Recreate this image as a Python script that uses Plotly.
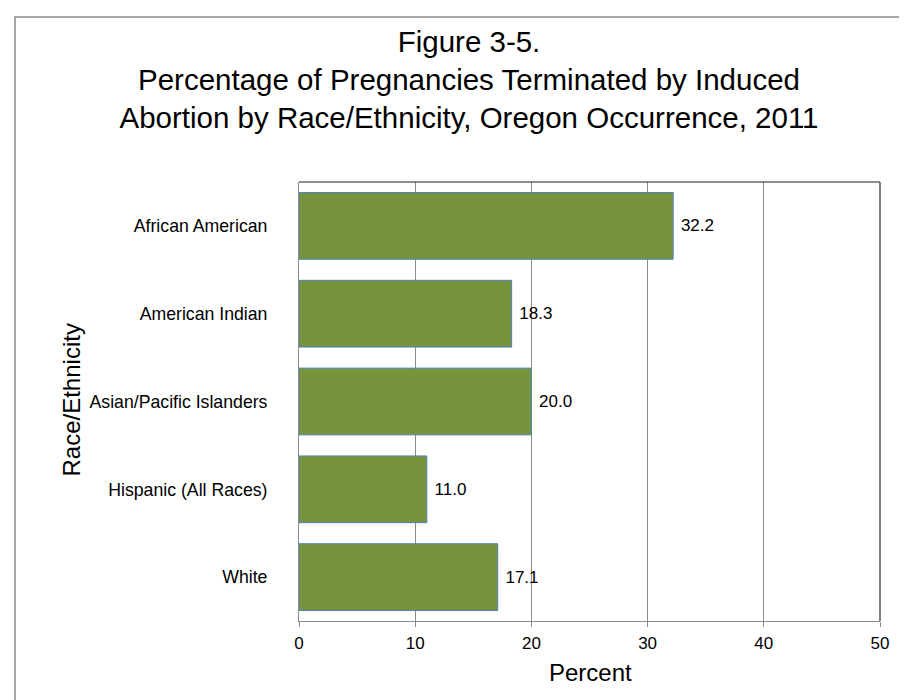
import plotly.graph_objects as go

categories = ["African American", "American Indian", "Asian/Pacific Islanders",
              "Hispanic (All Races)", "White"]
values = [32.2, 18.3, 20.0, 11.0, 17.1]
x_ticks = [0, 10, 20, 30, 40, 50]

W, H = 907, 700
ML, MR, MT, MB = 291, 35, 174, 87
pw, ph = W - ML - MR, H - MT - MB

def px(x):
    return (x - ML) / pw

def py(y):
    return (H - MB - y) / ph

FONT = "Liberation Sans, Arial, sans-serif"

fig = go.Figure(go.Bar(
    x=values, y=categories, orientation="h",
    marker=dict(color="#77933C", line=dict(color="#4F81BD", width=1)),
    text=["\u00a0" + f"{v:.1f}" for v in values],
    textposition="outside", cliponaxis=False,
    textfont=dict(size=17, color="#000000", family=FONT),
))

fig.update_layout(
    width=W, height=H,
    margin=dict(l=ML, r=MR, t=MT, b=MB, autoexpand=False),
    paper_bgcolor="white", plot_bgcolor="white",
    font=dict(family=FONT, color="#000000"),
    bargap=0.24, showlegend=False,
    title=dict(
        text="Figure 3-5.<br>Percentage of Pregnancies Terminated by Induced<br>"
             "Abortion by Race/Ethnicity, Oregon Occurrence, 2011",
        x=461 / W, xanchor="center", xref="container",
        y=1 - 43.5 / H, yanchor="top", yref="container",
        font=dict(size=29.5, family=FONT, color="#000000"),
    ),
    xaxis=dict(
        range=[0, 50], tickvals=x_ticks, showgrid=True, gridcolor="#8C8C8C", gridwidth=1,
        zeroline=False, showline=True, linecolor="#8C8C8C", linewidth=1,
        ticks="outside", ticklen=5, tickcolor="#8C8C8C", ticklabelstandoff=2,
        tickfont=dict(size=17), automargin=False,
    ),
    yaxis=dict(
        categoryorder="array", categoryarray=categories[::-1],
        showgrid=False, zeroline=False, showline=True, linecolor="#8C8C8C", linewidth=1,
        ticks="", tickfont=dict(size=17.7), ticklabelstandoff=27, automargin=False,
    ),
    shapes=[
        dict(type="line", xref="paper", yref="paper", x0=0, x1=1, y0=1, y1=1,
             line=dict(color="#222222", width=1)),
        dict(type="line", xref="paper", yref="paper", x0=1, x1=1, y0=0, y1=1,
             line=dict(color="#555555", width=1.5)),
        dict(type="path", xref="paper", yref="paper",
             path=f"M {px(7)},{py(710)} L {px(7)},{py(9)} L {px(912)},{py(9)}",
             line=dict(color="#8C8C8C", width=1.5)),
    ],
    annotations=[
        dict(text="Race/Ethnicity", textangle=-90, xref="paper", yref="paper",
             x=px(62.5), y=py(392), xanchor="center", yanchor="middle",
             showarrow=False, font=dict(size=24, family=FONT, color="#000000")),
        dict(text="Percent", xref="paper", yref="paper",
             x=px(582), y=py(664), xanchor="center", yanchor="middle",
             showarrow=False, font=dict(size=24, family=FONT, color="#000000")),
    ],
)

fig.write_html("out.html")
